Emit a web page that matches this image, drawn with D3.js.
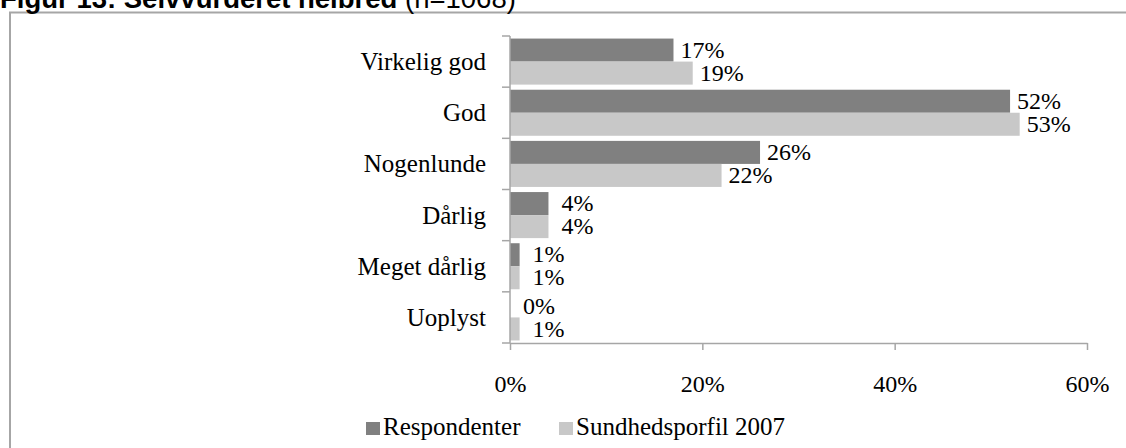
<!DOCTYPE html>
<html>
<head>
<meta charset="utf-8">
<script src="https://cdn.jsdelivr.net/npm/d3@7"></script>
<style>
  body { margin: 0; background: #fff; }
  svg { display: block; }
</style>
</head>
<body>
<svg id="chart" width="1126" height="448"></svg>
<script>
// data
var categories = ["Virkelig god", "God", "Nogenlunde", "Dårlig", "Meget dårlig", "Uoplyst"];
var respondenter = [17, 52, 26, 4, 1, 0];
var sundhedsprofil = [19, 53, 22, 4, 1, 1];
var seriesNames = ["Respondenter", "Sundhedsporfil 2007"];
var seriesColors = ["#808080", "#c8c8c8"];
var xTicks = [0, 20, 40, 60];

var svg = d3.select("#chart");
var serif = "'Liberation Serif', 'Times New Roman', serif";

// ramme
svg.append("path")
    .attr("d", "M10,448 V12.5 H1126")
    .attr("fill", "none")
    .attr("stroke", "#a6a6a6")
    .attr("stroke-width", 2);

// titel (toppen er beskåret i originalen)
var title = svg.append("text")
    .attr("x", 0)
    .attr("y", 8)
    .style("font-family", "'Liberation Sans', Arial, sans-serif")
    .style("font-size", "27.5px");
title.append("tspan").style("font-weight", "bold").text("Figur 13: Selvvurderet helbred");
title.append("tspan").text(" (n=1068)");

// scales
var x = d3.scaleLinear().domain([0, 60]).range([510, 1087]);
var y = d3.scaleBand().domain(categories).range([36, 343]).paddingInner(0.1).paddingOuter(0.05);
var ySub = d3.scaleBand().domain(seriesNames).range([0, y.bandwidth()]);

var rows = categories.map(function(c, i) {
    return { cat: c, vals: [respondenter[i], sundhedsprofil[i]] };
});

// bars
var groups = svg.append("g").selectAll("g")
    .data(rows)
    .enter().append("g")
    .attr("transform", function(d) { return "translate(0," + y(d.cat) + ")"; });

groups.selectAll("rect")
    .data(function(d) { return d.vals.map(function(v, j) { return { v: v, s: seriesNames[j], c: seriesColors[j] }; }); })
    .enter().append("rect")
    .attr("x", x(0))
    .attr("y", function(d) { return ySub(d.s); })
    .attr("width", function(d) { return x(d.v) - x(0); })
    .attr("height", ySub.bandwidth())
    .attr("fill", function(d) { return d.c; });

// værdi-labels (centreret et fast stykke efter bjælkens ende)
groups.selectAll("text")
    .data(function(d) { return d.vals.map(function(v, j) { return { v: v, s: seriesNames[j] }; }); })
    .enter().append("text")
    .attr("x", function(d) { return x(d.v) + 29; })
    .attr("y", function(d) { return ySub(d.s) + ySub.bandwidth() / 2; })
    .attr("dy", "0.32em")
    .attr("text-anchor", "middle")
    .style("font-family", serif)
    .style("font-size", "24px")
    .text(function(d) { return d.v + "%"; });

// y-akse
var axisColor = "#a6a6a6";
svg.append("line")
    .attr("x1", x(0)).attr("x2", x(0))
    .attr("y1", 36).attr("y2", 343)
    .attr("stroke", axisColor).attr("stroke-width", 1.5);

var bounds = categories.map(function(c) { return y(c) - y.step() * y.paddingInner() / 2; });
bounds.push(343);
bounds[0] = 36;
svg.append("g").selectAll("line")
    .data(bounds)
    .enter().append("line")
    .attr("x1", x(0) - 8).attr("x2", x(0))
    .attr("y1", function(d) { return d; }).attr("y2", function(d) { return d; })
    .attr("stroke", axisColor).attr("stroke-width", 1.5);

svg.append("g").selectAll("text")
    .data(categories)
    .enter().append("text")
    .attr("x", 486)
    .attr("y", function(d) { return y(d) + y.bandwidth() / 2; })
    .attr("dy", "0.34em")
    .attr("text-anchor", "end")
    .style("font-family", serif)
    .style("font-size", "25px")
    .text(function(d) { return d; });

// x-akse
var xAxis = svg.append("g")
    .attr("transform", "translate(0,343)")
    .call(d3.axisBottom(x).tickValues(xTicks).tickSize(7).tickSizeOuter(0).tickFormat(function(d) { return d + "%"; }));
xAxis.select(".domain").attr("stroke", axisColor).attr("stroke-width", 1.5);
xAxis.selectAll(".tick line").attr("stroke", axisColor).attr("stroke-width", 1.5);
xAxis.selectAll(".tick text")
    .attr("y", 49).attr("dy", null)
    .attr("fill", "#000")
    .style("font-family", serif)
    .style("font-size", "24px");

// legend
var legendX = [366, 559];
var legend = svg.append("g").selectAll("g")
    .data(seriesNames)
    .enter().append("g")
    .attr("transform", function(d, i) { return "translate(" + legendX[i] + ",435)"; });
legend.append("rect")
    .attr("x", 0).attr("y", -13)
    .attr("width", 14).attr("height", 13)
    .attr("fill", function(d, i) { return seriesColors[i]; });
legend.append("text")
    .attr("x", 17)
    .style("font-family", serif)
    .style("font-size", "25px")
    .text(function(d) { return d; });
</script>
</body>
</html>
